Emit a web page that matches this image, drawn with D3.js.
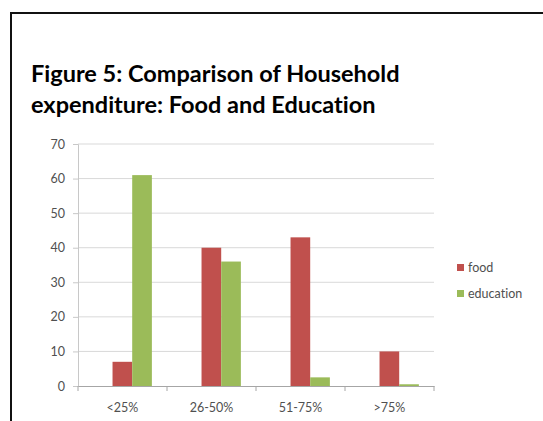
<!DOCTYPE html>
<html>
<head>
<meta charset="utf-8"/>
<title>Figure 5</title>
<script src="https://d3js.org/d3.v7.min.js"></script>
<style>
  body { margin: 0; background: #fff; }
  .title { font-family: Lato, "Open Sans", sans-serif; font-weight: 700; font-size: 23.5px; fill: #000; font-variant-ligatures: none; }
  .tick text, .legendText { font-family: Lato, "Open Sans", sans-serif; font-size: 12.5px; fill: #505050; font-variant-ligatures: none; }
</style>
</head>
<body>
<svg id="chart" width="543" height="421"></svg>
<script>
var categories = ["<25%", "26-50%", "51-75%", ">75%"];
var seriesNames = ["food", "education"];
var food = [7, 40, 43, 10];
var education = [61, 36, 2.5, 0.5];
var yTicks = [0, 10, 20, 30, 40, 50, 60, 70];
var colors = ["#C0504D", "#9BBB59"];

var svg = d3.select("#chart");

// frame of the figure box
svg.append("rect").attr("x", 11).attr("y", 13).attr("width", 560).attr("height", 440)
  .style("fill", "none").style("stroke", "#111").style("stroke-width", 2);

svg.append("text").attr("class", "title").attr("x", 31).attr("y", 82).text("Figure 5: Comparison of Household");
svg.append("text").attr("class", "title").attr("x", 31).attr("y", 113).text("expenditure: Food and Education");

var margin = {top: 144, left: 78},
    width = 356, height = 242;

var g = svg.append("g").attr("transform", "translate(" + margin.left + "," + margin.top + ")");

var x0 = d3.scaleBand().domain(categories).range([0, width]);
var bw = x0.bandwidth();
var x1 = d3.scaleBand().domain(seriesNames).range([bw * 0.388, bw * 0.83]);
var y = d3.scaleLinear().domain([0, 70]).range([height, 0]);

// gridlines
g.selectAll(".grid").data(yTicks.slice(1)).enter().append("line")
  .attr("x1", 0).attr("x2", width)
  .attr("y1", function(d) { return y(d); }).attr("y2", function(d) { return y(d); })
  .style("stroke", "#d9d9d9").style("stroke-width", 1);

var yAxis = g.append("g").call(d3.axisLeft(y).tickValues(yTicks).tickSize(5).tickPadding(8));
yAxis.select(".domain").style("stroke", "#c8c8c8");
yAxis.selectAll(".tick line").style("stroke", "#c8c8c8");

var data = categories.map(function(c, i) { return {cat: c, vals: [food[i], education[i]]}; });

var groups = g.selectAll(".grp").data(data).enter().append("g")
  .attr("transform", function(d) { return "translate(" + x0(d.cat) + ",0)"; });

groups.selectAll("rect").data(function(d) {
    return d.vals.map(function(v, j) { return {name: seriesNames[j], v: v, j: j}; });
  }).enter().append("rect")
  .attr("x", function(d) { return x1(d.name); })
  .attr("width", x1.bandwidth())
  .attr("y", function(d) { return y(d.v); })
  .attr("height", function(d) { return height - y(d.v); })
  .style("fill", function(d) { return colors[d.j]; });

var xAxis = g.append("g").attr("transform", "translate(0," + height + ")")
  .call(d3.axisBottom(x0).tickSize(0).tickPadding(17));
xAxis.select(".domain").style("stroke", "#a6a6a6");

// category separators on the x axis
g.selectAll(".xtick").data(d3.range(categories.length + 1)).enter().append("line")
  .attr("x1", function(i) { return i * bw; }).attr("x2", function(i) { return i * bw; })
  .attr("y1", height).attr("y2", height + 5)
  .style("stroke", "#a6a6a6");

var legend = svg.append("g").attr("transform", "translate(457,264)");
seriesNames.forEach(function(s, i) {
  legend.append("rect").attr("x", 0).attr("y", i * 26).attr("width", 7).attr("height", 7).style("fill", colors[i]);
  legend.append("text").attr("class", "legendText").attr("x", 11).attr("y", i * 26 + 8).text(s);
});
</script>
</body>
</html>
